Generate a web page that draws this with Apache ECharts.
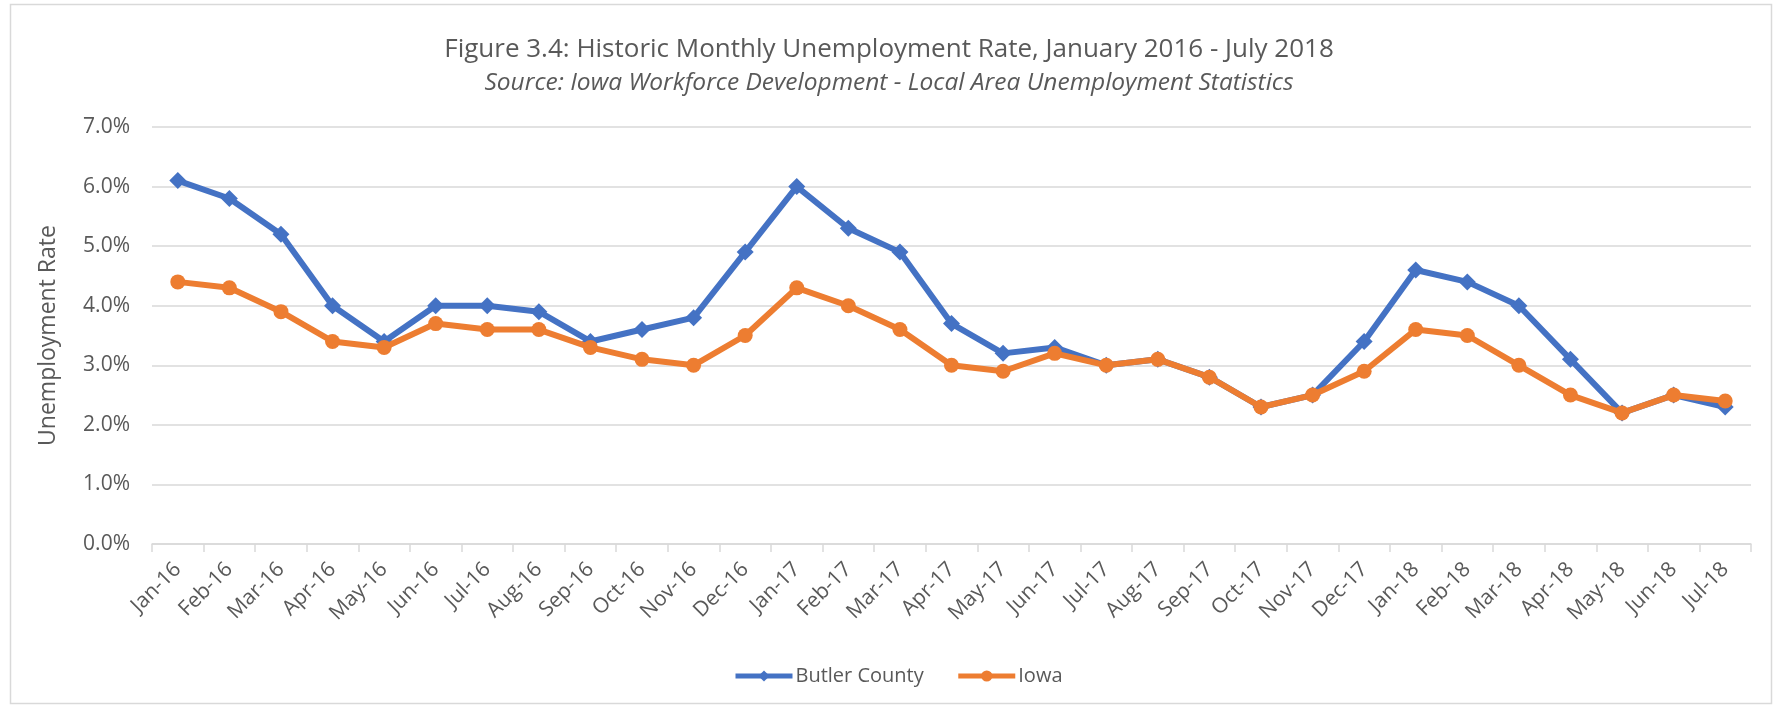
<!DOCTYPE html>
<html>
<head>
<meta charset="utf-8">
<script src="https://cdn.jsdelivr.net/npm/echarts@6/dist/echarts.min.js"></script>
<style>
html,body{margin:0;padding:0;background:#fff;}
#chart{width:1778px;height:707px;}
</style>
</head>
<body>
<div id="chart"></div>
<script>
const categories = ['Jan-16','Feb-16','Mar-16','Apr-16','May-16','Jun-16','Jul-16','Aug-16','Sep-16','Oct-16','Nov-16','Dec-16',
  'Jan-17','Feb-17','Mar-17','Apr-17','May-17','Jun-17','Jul-17','Aug-17','Sep-17','Oct-17','Nov-17','Dec-17',
  'Jan-18','Feb-18','Mar-18','Apr-18','May-18','Jun-18','Jul-18'];
const butlerCounty = [6.1,5.8,5.2,4.0,3.4,4.0,4.0,3.9,3.4,3.6,3.8,4.9,6.0,5.3,4.9,3.7,3.2,3.3,3.0,3.1,2.8,2.3,2.5,3.4,4.6,4.4,4.0,3.1,2.2,2.5,2.3];
const iowa = [4.4,4.3,3.9,3.4,3.3,3.7,3.6,3.6,3.3,3.1,3.0,3.5,4.3,4.0,3.6,3.0,2.9,3.2,3.0,3.1,2.8,2.3,2.5,2.9,3.6,3.5,3.0,2.5,2.2,2.5,2.4];
const seriesNames = ['Butler County','Iowa'];
const titleText = 'Figure 3.4: Historic Monthly Unemployment Rate, January 2016 - July 2018';
const subtitleText = 'Source: Iowa Workforce Development - Local Area Unemployment Statistics';
const yAxisName = 'Unemployment Rate';

const FONT = '"Open Sans", sans-serif';
const TXT = '#595959';
const chart = echarts.init(document.getElementById('chart'), null, {renderer:'canvas'});
chart.setOption({
  backgroundColor: '#fff',
  animation: false,
  graphic: [{
    type: 'rect', left: 8, top: 2,
    shape: {width: 1761, height: 699},
    style: {fill: 'none', stroke: '#d9d9d9', lineWidth: 1.5},
    silent: true, z: -1
  }],
  title: [
    {text: titleText, left: 'center', top: 31, padding: [5, 0, 5, 16],
     textStyle: {fontFamily: FONT, fontSize: 26, fontWeight: 'normal', color: TXT, lineHeight: 27}},
    {text: subtitleText, left: 'center', top: 66, padding: [5, 0, 5, 13],
     textStyle: {fontFamily: FONT, fontSize: 24.5, fontStyle: 'italic', fontWeight: 'normal', color: TXT, lineHeight: 25}}
  ],
  legend: {
    data: seriesNames, left: 728, top: 661,
    itemWidth: 57, itemHeight: 14, itemGap: 32,
    lineStyle: {width: 5},
    textStyle: {fontFamily: FONT, fontSize: 20, color: TXT, padding: [0,0,0,-2]}
  },
  grid: {left: 152, right: 27, top: 127, bottom: 163, containLabel: false},
  xAxis: {
    type: 'category', data: categories, boundaryGap: true,
    axisLine: {lineStyle: {color: '#d9d9d9', width: 1.5}},
    axisTick: {show: true, length: 8, lineStyle: {color: '#d9d9d9', width: 1.5}},
    axisLabel: {interval: 0, rotate: 45, margin: 22, fontFamily: FONT, fontSize: 21, color: TXT}
  },
  yAxis: {
    type: 'value', min: 0, max: 7, interval: 1,
    name: yAxisName, nameLocation: 'middle', nameGap: 92, nameRotate: 90,
    nameTextStyle: {fontFamily: FONT, fontSize: 23, color: TXT},
    axisLine: {show: false}, axisTick: {show: false},
    splitLine: {lineStyle: {color: '#d9d9d9', width: 1.5}},
    axisLabel: {fontFamily: FONT, fontSize: 21, color: TXT, margin: 22,
      formatter: v => v.toFixed(1) + '%'}
  },
  series: [
    {name: seriesNames[0], type: 'line', data: butlerCounty,
     symbol: 'diamond', symbolSize: 17,
     itemStyle: {color: '#4472C4'}, lineStyle: {color: '#4472C4', width: 6}, z: 2},
    {name: seriesNames[1], type: 'line', data: iowa,
     symbol: 'circle', symbolSize: 15,
     itemStyle: {color: '#ED7D31'}, lineStyle: {color: '#ED7D31', width: 6}, z: 3}
  ]
});
</script>
</body>
</html>
